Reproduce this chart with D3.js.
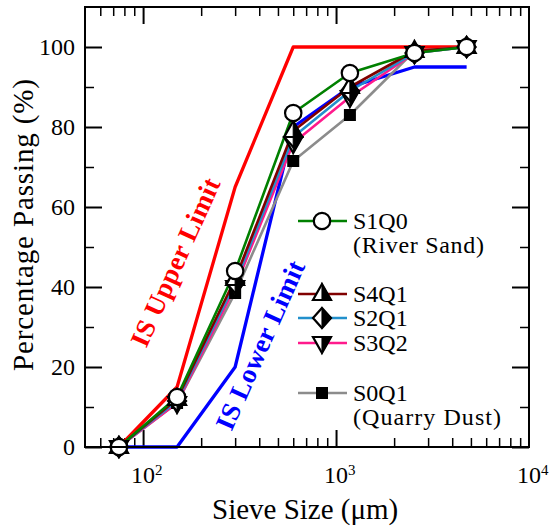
<!DOCTYPE html>
<html><head><meta charset="utf-8">
<script src="https://cdn.jsdelivr.net/npm/d3@7/dist/d3.min.js"></script>
<style>body{margin:0;background:#fff}svg{display:block}</style>
</head><body><svg id="c" width="550" height="528"></svg>
<script>
// ---- data ----
const sieveSizes = [75, 150, 300, 600, 1180, 2550, 4750];
const upperLimit = [0, 15, 65, 100, 100, 100, 100];
const lowerLimit = [0, 0, 20, 80, 90, 95, 95];
const s1q0 = [0, 12.5, 44, 83.5, 93.5, 98.5, 100];
const s4q1 = [0, 12, 42, 79, 90, 99, 100];
const s2q1 = [0, 11.5, 41, 77.5, 89, 98.5, 100];
const s3q2 = [0, 11, 40, 76, 87.5, 98.5, 100];
const s0q1 = [0, 11, 38.5, 71.5, 83, 99, 100];
const seriesNames = ["S1Q0", "S4Q1", "S2Q1", "S3Q2", "S0Q1"];
const yTicks = [0, 20, 40, 60, 80, 100];
const yMinor = [10, 30, 50, 70, 90];
const xMajor = [100, 1000];
const xLabels = [100, 1000, 10000];
const xMinor = [60,70,80,90,200,300,400,500,600,700,800,900,2000,3000,4000,5000,6000,7000,8000,9000];

const series = [
  {name: "S0Q1", values: s0q1, color: "#8c8c8c", marker: "square"},
  {name: "S3Q2", values: s3q2, color: "#ff1a8c", marker: "down"},
  {name: "S2Q1", values: s2q1, color: "#2290cc", marker: "diamond"},
  {name: "S4Q1", values: s4q1, color: "#800000", marker: "up"},
  {name: "S1Q0", values: s1q0, color: "#008000", marker: "circle"}
];

const L = 85, R = 529, T = 7, B = 447;
const svg = d3.select("#c");
const x = d3.scaleLog().domain([50, 10000]).range([L, R]);
const y = d3.scaleLinear().domain([0, 110]).range([B, T]);
const FONT = "Liberation Serif";

// ---- axes (ticks inward) ----
function styleAxis(g, w) {
  g.select(".domain").remove();
  g.selectAll("line").attr("stroke", "#000").attr("stroke-width", w);
  g.selectAll("text").remove();
}
svg.append("g").attr("transform", `translate(0,${B})`)
  .call(d3.axisBottom(x).tickValues(xMajor).tickSize(-17)).call(g => styleAxis(g, 2));
svg.append("g").attr("transform", `translate(0,${B})`)
  .call(d3.axisBottom(x).tickValues(xMinor).tickSize(-9)).call(g => styleAxis(g, 1.5));
svg.append("g").attr("transform", `translate(0,${T})`)
  .call(d3.axisTop(x).tickValues(xMajor).tickSize(-17)).call(g => styleAxis(g, 2));
svg.append("g").attr("transform", `translate(0,${T})`)
  .call(d3.axisTop(x).tickValues(xMinor).tickSize(-9)).call(g => styleAxis(g, 1.5));
svg.append("g").attr("transform", `translate(${L},0)`)
  .call(d3.axisLeft(y).tickValues(yTicks).tickSize(-17)).call(g => styleAxis(g, 2));
svg.append("g").attr("transform", `translate(${L},0)`)
  .call(d3.axisLeft(y).tickValues(yMinor).tickSize(-9)).call(g => styleAxis(g, 1.5));
svg.append("g").attr("transform", `translate(${R},0)`)
  .call(d3.axisRight(y).tickValues(yTicks).tickSize(-17)).call(g => styleAxis(g, 2));
svg.append("g").attr("transform", `translate(${R},0)`)
  .call(d3.axisRight(y).tickValues(yMinor).tickSize(-9)).call(g => styleAxis(g, 1.5));

// tick labels
svg.append("g").selectAll("text").data(yTicks).join("text")
  .attr("x", L - 10).attr("y", d => y(d)).attr("dy", "0.34em")
  .attr("text-anchor", "end").attr("font-family", FONT).attr("font-size", 24)
  .text(d => d);
const xl = svg.append("g").selectAll("g").data(xLabels).join("g");
xl.append("text").attr("x", d => x(d)).attr("y", 483).attr("text-anchor", "middle")
  .attr("font-family", FONT).attr("font-size", 24).text("10");
xl.append("text").attr("x", d => x(d) + 12).attr("y", 475)
  .attr("font-family", FONT).attr("font-size", 15).text(d => Math.round(Math.log10(d)));

// axis titles
svg.append("text").attr("x", 212).attr("y", 519).attr("font-family", FONT).attr("font-size", 29)
  .text("Sieve Size (\u03bcm)");
svg.append("text").attr("transform", "translate(33,225) rotate(-90)").attr("text-anchor", "middle")
  .attr("font-family", FONT).attr("font-size", 29)
  .attr("textLength", 292).attr("lengthAdjust", "spacing").text("Percentage Passing (%)");

// ---- lines ----
const line = d3.line().x((d, i) => x(sieveSizes[i])).y(d => y(d));
const plot = svg.append("g");
plot.append("path").attr("d", line(upperLimit)).attr("fill", "none").attr("stroke", "#ff0000")
  .attr("stroke-width", 3.3).attr("stroke-linejoin", "round");
plot.append("path").attr("d", line(lowerLimit)).attr("fill", "none").attr("stroke", "#0000ff")
  .attr("stroke-width", 3.3).attr("stroke-linejoin", "round");
series.forEach(s => {
  plot.append("path").attr("d", line(s.values)).attr("fill", "none").attr("stroke", s.color)
    .attr("stroke-width", 2.6).attr("stroke-linejoin", "round");
});

// ---- markers ----
function marker(g, type, cx, cy) {
  const m = g.append("g").attr("transform", `translate(${cx},${cy})`);
  const sw = 2.2;
  if (type === "circle") {
    m.append("circle").attr("r", 8.2).attr("fill", "#fff").attr("stroke", "#000").attr("stroke-width", sw);
  } else if (type === "square") {
    m.append("rect").attr("x", -6).attr("y", -6).attr("width", 12).attr("height", 12).attr("fill", "#000");
  } else {
    let full, half;
    if (type === "up") {
      full = [[0,-10],[9,6],[-9,6]]; half = [[0,-10],[9,6],[0,6]];
    } else if (type === "down") {
      full = [[0,10],[9,-6],[-9,-6]]; half = [[0,10],[9,-6],[0,-6]];
    } else {
      full = [[0,-10],[9,0],[0,10],[-9,0]]; half = [[0,-10],[9,0],[0,10]];
    }
    m.append("polygon").attr("points", full.join(" ")).attr("fill", "#fff")
      .attr("stroke", "#000").attr("stroke-width", sw).attr("stroke-linejoin", "miter");
    m.append("polygon").attr("points", half.join(" ")).attr("fill", "#000")
      .attr("stroke", "#000").attr("stroke-width", sw * 0.5);
  }
}
series.forEach(s => {
  s.values.forEach((v, i) => marker(plot, s.marker, x(sieveSizes[i]), y(v)));
});

// ---- frame ----
svg.append("rect").attr("x", L).attr("y", T).attr("width", R - L).attr("height", B - T)
  .attr("fill", "none").attr("stroke", "#000").attr("stroke-width", 2);

// ---- limit labels ----
svg.append("text").attr("transform", "translate(175,262) rotate(-65.7)").attr("text-anchor", "middle")
  .attr("dy", "0.35em").attr("font-family", FONT).attr("font-size", 27).attr("font-weight", "bold")
  .attr("fill", "#ff0000").attr("textLength", 182).attr("lengthAdjust", "spacing").text("IS Upper Limit");
svg.append("text").attr("transform", "translate(260,345) rotate(-66)").attr("text-anchor", "middle")
  .attr("dy", "0.35em").attr("font-family", FONT).attr("font-size", 27).attr("font-weight", "bold")
  .attr("fill", "#0000ff").attr("textLength", 182).attr("lengthAdjust", "spacing").text("IS Lower Limit");

// ---- legend ----
const legendRows = [
  {s: series[4], y: 221, sub: "(River Sand)", subLen: 131},
  {s: series[3], y: 294},
  {s: series[2], y: 318},
  {s: series[1], y: 343},
  {s: series[0], y: 393, sub: "(Quarry Dust)", subLen: 148}
];
const lg = svg.append("g");
legendRows.forEach(r => {
  lg.append("line").attr("x1", 298).attr("x2", 347).attr("y1", r.y).attr("y2", r.y)
    .attr("stroke", r.s.color).attr("stroke-width", 2.6);
  marker(lg, r.s.marker, 322, r.y);
  lg.append("text").attr("x", 353).attr("y", r.y + 8).attr("font-family", FONT).attr("font-size", 24)
    .text(r.s.name);
  if (r.sub) {
    lg.append("text").attr("x", 353).attr("y", r.y + 32).attr("font-family", FONT).attr("font-size", 24)
      .attr("textLength", r.subLen).attr("lengthAdjust", "spacing").text(r.sub);
  }
});
</script></body></html>
